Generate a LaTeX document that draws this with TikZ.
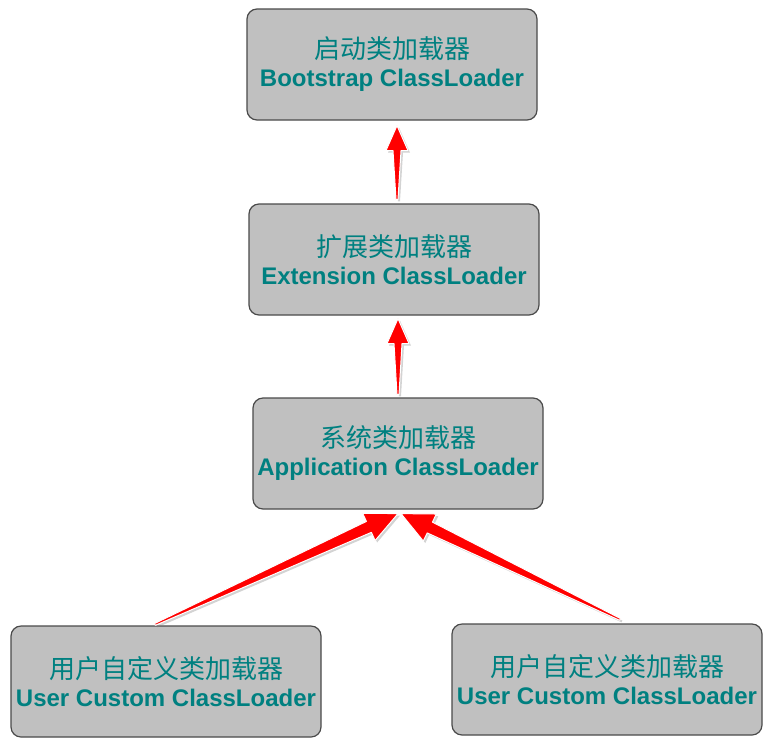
\documentclass[tikz,border=0pt]{standalone}
\usepackage{fontspec}
\setmainfont{Liberation Sans}
\newfontfamily\cjk{Noto Sans CJK SC}
\usetikzlibrary{calc,shadows}
\definecolor{boxgray}{HTML}{C0C0C0}
\definecolor{boxline}{HTML}{4A4A4A}
\definecolor{labelteal}{HTML}{008080}
\newcommand{\cjkline}[1]{{\cjk\fontsize{26}{28}\selectfont #1}}
\tikzset{
  loader/.style={rectangle, rounded corners=10pt, fill=boxgray, draw=boxline, line width=1.2pt,
    minimum height=111pt, align=center, text=labelteal, inner sep=0pt,
    font=\fontsize{24}{28}\selectfont},
  redwedge/.style={fill=red, draw=white, line width=1pt, line join=round,
    drop shadow={opacity=0.35, shadow xshift=2pt, shadow yshift=-2pt}}
}
% tapered arrow: from, to, head half width, head length, shaft half width
\newcommand{\redarrow}[5]{%
  \coordinate (hb) at ($(#2)!#4pt!(#1)$);
  \filldraw[redwedge] ($(#1)!1pt!90:(#2)$) -- ($(hb)!#5pt!90:(#2)$) -- ($(hb)!#3pt!90:(#2)$)
    -- (#2) -- ($(hb)!#3pt!-90:(#2)$) -- ($(hb)!#5pt!-90:(#2)$) -- ($(#1)!1pt!-90:(#2)$) -- cycle;}

\begin{document}
\begin{tikzpicture}[x=1pt, y=-1pt]
\useasboundingbox (0,0) rectangle (773,745);

\node[loader, minimum width=290pt] (boot) at (392,64.5) {\cjkline{启动类加载器}\\{\bfseries Bootstrap ClassLoader}};
\node[loader, minimum width=290pt] (ext) at (394,259.5) {\cjkline{扩展类加载器}\\{\bfseries Extension ClassLoader}};
\node[loader, minimum width=290pt] (app) at (398,453.5) {\cjkline{系统类加载器}\\{\bfseries Application ClassLoader}};
\node[loader, minimum width=310pt] (userA) at (166,681.5) {\cjkline{用户自定义类加载器}\\{\bfseries User Custom ClassLoader}};
\node[loader, minimum width=310pt] (userB) at (607,679.5) {\cjkline{用户自定义类加载器}\\{\bfseries User Custom ClassLoader}};

% arrow ends
\coordinate (extTail) at ([xshift=3pt, yshift=4pt]ext.north);
\coordinate (bootTip) at ([xshift=5pt, yshift=-5pt]boot.south);
\coordinate (appTail) at ([yshift=3pt]app.north);
\coordinate (extTip) at ([xshift=4pt, yshift=-3pt]ext.south);
\coordinate (userATail) at ([xshift=-11pt, yshift=1pt]userA.north);
\coordinate (userBTail) at ([xshift=13pt, yshift=4pt]userB.north);
\coordinate (appTipA) at ([xshift=0pt, yshift=-4pt]app.south);
\coordinate (appTipB) at ([xshift=3pt, yshift=-4pt]app.south);

\redarrow{extTail}{bootTip}{11}{25}{4}
\redarrow{appTail}{extTip}{11}{25}{4}
\redarrow{userATail}{appTipA}{15}{32}{6}
\redarrow{userBTail}{appTipB}{15}{32}{6}

\end{tikzpicture}
\end{document}
